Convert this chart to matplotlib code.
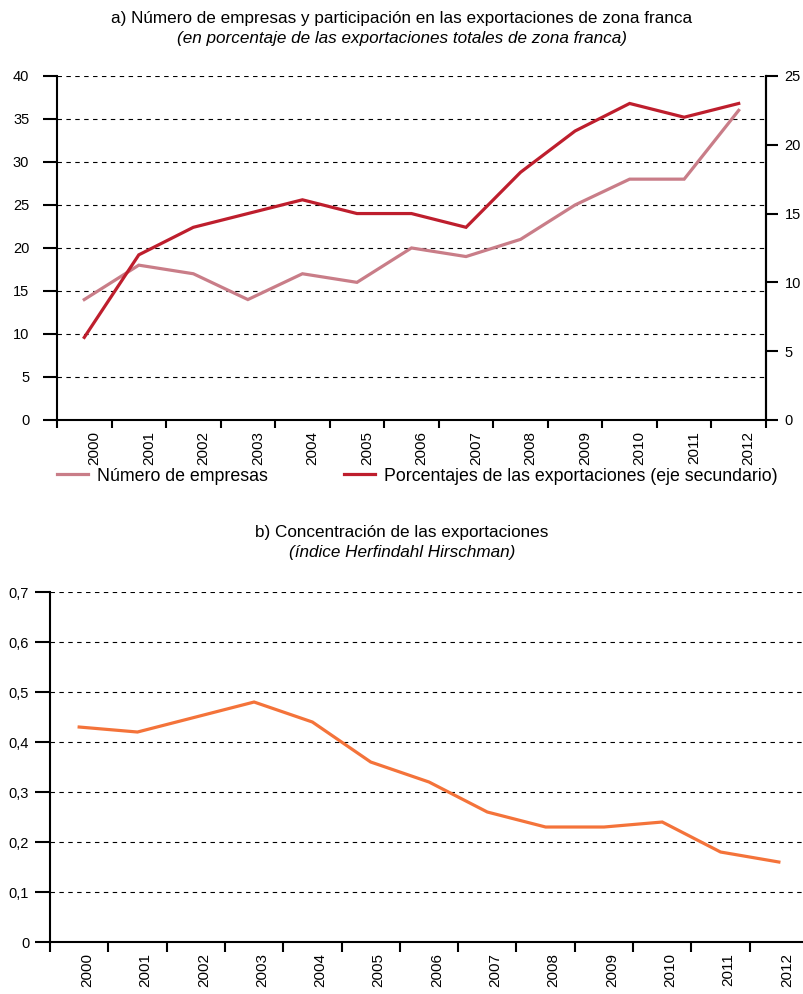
import numpy as np
import matplotlib.pyplot as plt
import matplotlib.transforms as mtransforms

plt.rcParams['font.family'] = ['Liberation Sans', 'DejaVu Sans']

years = ['2000', '2001', '2002', '2003', '2004', '2005', '2006',
         '2007', '2008', '2009', '2010', '2011', '2012']
n_empresas = [14, 18, 17, 14, 17, 16, 20, 19, 21, 25, 28, 28, 36]
pct_export = [6, 12, 14, 15, 16, 15, 15, 14, 18, 21, 23, 22, 23]
hhi = [0.43, 0.42, 0.45, 0.48, 0.44, 0.36, 0.32, 0.26, 0.23, 0.23, 0.24, 0.18, 0.16]

c_pink = '#C97D88'
c_red = '#BE1E2D'
c_orange = '#F4733A'

fig = plt.figure(figsize=(8.04, 9.94), dpi=100)
x = np.arange(len(years))


def style_xaxis(ax, tick_len, shift):
    # ticks on category edges, labels centred in each category
    ax.set_xlim(-0.5, len(years) - 0.5)
    ax.set_xticks(np.arange(-0.5, len(years) + 0.5, 1))
    ax.set_xticklabels([])
    ax.tick_params(axis='x', which='major', length=tick_len, width=1.5, direction='out')
    ax.set_xticks(x, minor=True)
    ax.set_xticklabels(years, minor=True, rotation=90, ha='center', va='top', fontsize=11)
    ax.tick_params(axis='x', which='minor', length=0, pad=8)
    off = mtransforms.ScaledTranslation(shift / 100, 0, fig.dpi_scale_trans)
    for lab in ax.xaxis.get_minorticklabels():
        lab.set_transform(lab.get_transform() + off)


# ---- a) top chart
ax1 = fig.add_axes([0.0709, 0.5775, 0.8818, 0.3461])
ax1.plot(x, n_empresas, color=c_pink, lw=2.3, label='Número de empresas', solid_joinstyle='miter')
ax1.set_ylim(0, 40)
ax1.set_yticks(range(0, 41, 5))
ax1.grid(axis='y', color='black', ls=(0, (4, 4)), lw=0.8)
ax1.set_axisbelow(True)
ax1.tick_params(axis='y', length=10, width=1.5, pad=10, labelsize=10.5)
style_xaxis(ax1, 6, 10)
ax1.spines['top'].set_visible(False)
for s in ['left', 'bottom', 'right']:
    ax1.spines[s].set_linewidth(1.5)

ax2 = ax1.twinx()
ax2.plot(x, pct_export, color=c_red, lw=2.3,
         label='Porcentajes de las exportaciones (eje secundario)', solid_joinstyle='miter')
ax2.set_ylim(0, 25)
ax2.set_yticks(range(0, 26, 5))
ax2.tick_params(axis='y', length=8.5, width=1.5, pad=5, labelsize=10.5)
ax2.spines['top'].set_visible(False)
ax2.spines['right'].set_linewidth(1.5)
ax2.spines['left'].set_visible(False)
ax2.spines['bottom'].set_visible(False)

h1, l1 = ax1.get_legend_handles_labels()
h2, l2 = ax2.get_legend_handles_labels()
ax1.legend(h1 + h2, l1 + l2, loc='center left', bbox_to_anchor=(0, -0.163),
           ncol=2, frameon=False, borderpad=0, borderaxespad=0, fontsize=12.8,
           handlelength=1.75, handletextpad=0.5, columnspacing=4.3)

fig.text(0.5, 1 - 18 / 994, 'a) Número de empresas y participación en las exportaciones de zona franca',
         ha='center', va='center', fontsize=12.3)
fig.text(0.5, 1 - 38 / 994, '(en porcentaje de las exportaciones totales de zona franca)',
         ha='center', va='center', fontsize=12.3, style='italic')

# ---- b) bottom chart
ax3 = fig.add_axes([0.0622, 0.0523, 0.9428, 0.3521])
ax3.plot(x, hhi, color=c_orange, lw=2.3, solid_joinstyle='miter')
ax3.set_ylim(0, 0.7)
ax3.set_yticks(np.arange(0, 0.71, 0.1))
ax3.set_yticklabels(['0'] + [f'{v:.1f}'.replace('.', ',') for v in np.arange(0.1, 0.71, 0.1)])
ax3.grid(axis='y', color='black', ls=(0, (4, 4)), lw=0.8)
ax3.set_axisbelow(True)
ax3.tick_params(axis='y', length=11, width=1.5, pad=4, labelsize=10.5)
style_xaxis(ax3, 7, 8)
for s in ['top', 'right']:
    ax3.spines[s].set_visible(False)
for s in ['left', 'bottom']:
    ax3.spines[s].set_linewidth(1.5)

fig.text(0.5, 1 - 533 / 994, 'b) Concentración de las exportaciones',
         ha='center', va='center', fontsize=12.3)
fig.text(0.5, 1 - 552 / 994, '(índice Herfindahl Hirschman)',
         ha='center', va='center', fontsize=12.3, style='italic')

fig.savefig('out.png', dpi=100)
